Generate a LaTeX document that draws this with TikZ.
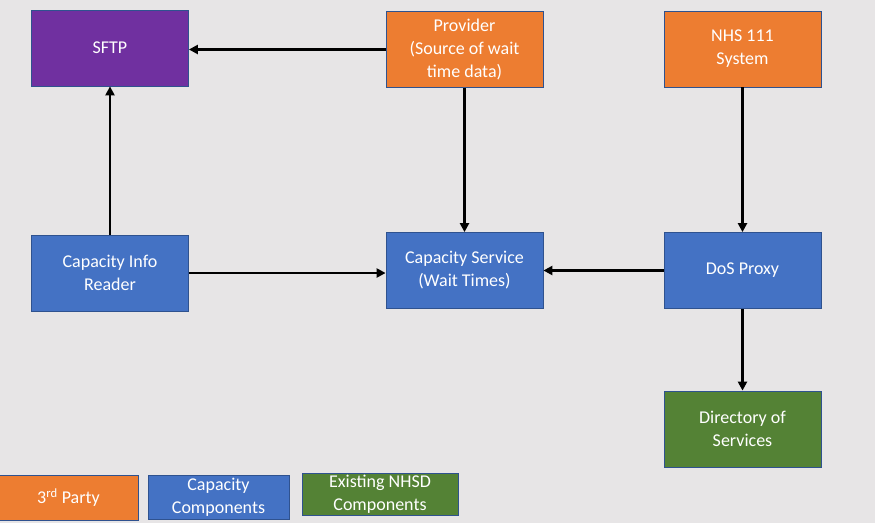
\documentclass[tikz,border=0pt]{standalone}
\usepackage{fontspec}
\setmainfont{Carlito}
\usetikzlibrary{arrows.meta}
\definecolor{bggray}{HTML}{E7E5E6}
\definecolor{thirdorange}{HTML}{ED7D31}
\definecolor{capblue}{HTML}{4472C4}
\definecolor{nhsgreen}{HTML}{548235}
\definecolor{sftppurple}{HTML}{7030A0}
\definecolor{edgeblue}{HTML}{2F528F}
\tikzset{
  box/.style={draw=edgeblue, line width=0.8pt, text=white, align=center,
    font=\fontsize{18}{23}\selectfont, inner sep=0pt},
  bigbox/.style={box, minimum width=157pt, minimum height=76pt},
  flow/.style={line width=2.6pt, -{Triangle[length=9pt,width=9pt]}}
}

\begin{document}
\begin{tikzpicture}[x=1pt,y=-1pt]
% background
\fill[bggray] (0,0) rectangle (875,523);
\useasboundingbox (0,0) rectangle (875,523);
% top row
\node[bigbox, fill=sftppurple] (sftp) at (110,48) {SFTP};
\node[bigbox, fill=thirdorange] (prov) at (464.5,49.5) {Provider\\(Source of wait\\time data)};
\node[bigbox, fill=thirdorange] (nhs) at (742.5,49) {NHS 111\\System};
% middle row
\node[bigbox, fill=capblue] (reader) at (110,273) {Capacity Info\\Reader};
\node[bigbox, fill=capblue] (service) at (464.5,270.5) {Capacity Service\\(Wait Times)};
\node[bigbox, fill=capblue] (proxy) at (742.5,270.5) {DoS Proxy};
% bottom
\node[bigbox, fill=nhsgreen] (dos) at (742.5,429) {Directory of\\Services};
% legend
\node[box, fill=thirdorange, minimum width=139pt, minimum height=45pt] (legthird) at (68.5,497.5) {3\textsuperscript{rd} Party};
\node[box, fill=capblue, minimum width=141pt, minimum height=44pt] (legcap) at (218.5,497) {Capacity\\Components};
\node[box, fill=nhsgreen, minimum width=156pt, minimum height=42pt] (legnhsd) at (380,494) {Existing NHSD\\Components};
% arrows
\draw[flow] (prov.west) -- (prov.west -| sftp.east);
\draw[flow] (reader.north) -- (sftp.south);
\draw[flow] (prov.south) -- (service.north);
\draw[flow] (reader.east) -- (reader.east -| service.west);
\draw[flow] (proxy.west) -- (service.east);
\draw[flow] (nhs.south) -- (proxy.north);
\draw[flow] (proxy.south) -- (dos.north);
\end{tikzpicture}
\end{document}
